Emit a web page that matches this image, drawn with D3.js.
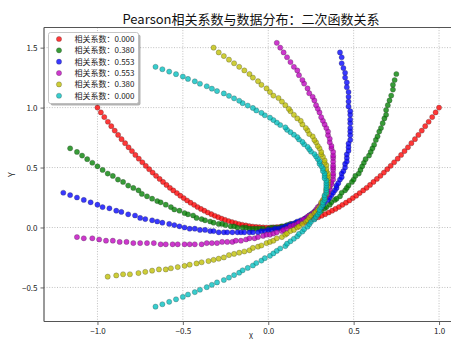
<!DOCTYPE html>
<html><head><meta charset="utf-8">
<script src="https://cdn.jsdelivr.net/npm/d3@7"></script>
<style>body{margin:0;background:#fff}svg{display:block;font-family:"Noto Sans CJK SC","DejaVu Sans",sans-serif}</style>
</head><body><svg id="c" width="451" height="339"></svg>
<script>
const titleText = "Pearson相关系数与数据分布：二次函数关系";
const xLabel = "X", yLabel = "Y";
const seriesLabels = ["相关系数：0.000","相关系数：0.380","相关系数：0.553","相关系数：0.553","相关系数：0.380","相关系数：0.000"];
const seriesColors = ["#ff0000","#008000","#0000ff","#bf00bf","#bfbf00","#00bfbf"];
const xTicks = [-1.0,-0.5,0.0,0.5,1.0];
const yTicks = [-0.5,0.0,0.5,1.0,1.5];

const redX = [-1.000,-0.980,-0.960,-0.939,-0.919,-0.899,-0.879,-0.859,-0.838,-0.818,-0.798,-0.778,-0.758,-0.737,-0.717,-0.697,-0.677,-0.657,-0.636,-0.616,-0.596,-0.576,-0.556,-0.535,-0.515,-0.495,-0.475,-0.455,-0.434,-0.414,-0.394,-0.374,-0.354,-0.333,-0.313,-0.293,-0.273,-0.253,-0.232,-0.212,-0.192,-0.172,-0.152,-0.131,-0.111,-0.091,-0.071,-0.051,-0.030,-0.010,
0.010,0.030,0.051,0.071,0.091,0.111,0.131,0.152,0.172,0.192,0.212,0.232,0.253,0.273,0.293,0.313,0.333,0.354,0.374,0.394,0.414,0.434,0.455,0.475,0.495,0.515,0.535,0.556,0.576,0.596,0.616,0.636,0.657,0.677,0.697,0.717,0.737,0.758,0.778,0.798,0.818,0.838,0.859,0.879,0.899,0.919,0.939,0.960,0.980,1.000];
const redY = [1.000,0.960,0.921,0.882,0.845,0.808,0.772,0.737,0.703,0.669,0.637,0.605,0.574,0.544,0.514,0.486,0.458,0.431,0.405,0.380,0.355,0.331,0.309,0.287,0.265,0.245,0.225,0.207,0.189,0.171,0.155,0.140,0.125,0.111,0.098,0.086,0.074,0.064,0.054,0.045,0.037,0.029,0.023,0.017,0.012,0.008,0.005,0.003,0.001,0.000,
0.000,0.001,0.003,0.005,0.008,0.012,0.017,0.023,0.029,0.037,0.045,0.054,0.064,0.074,0.086,0.098,0.111,0.125,0.140,0.155,0.171,0.189,0.207,0.225,0.245,0.265,0.287,0.309,0.331,0.355,0.380,0.405,0.431,0.458,0.486,0.514,0.544,0.574,0.605,0.637,0.669,0.703,0.737,0.772,0.808,0.845,0.882,0.921,0.960,1.000];

const greenX = [-1.16,-1.12,-1.09,-1.06,-1.03,-1.00,-0.97,-0.94,-0.91,-0.88,-0.85,-0.82,-0.79,-0.76,-0.74,-0.71,-0.68,-0.65,-0.63,-0.60,-0.57,-0.55,-0.52,-0.49,-0.47,-0.44,-0.42,-0.39,-0.37,-0.34,-0.32,-0.29,-0.27,-0.25,-0.22,-0.20,-0.18,-0.15,-0.13,-0.11,-0.09,-0.07,-0.05,-0.03,0.00,0.02,0.04,0.06,0.08,0.10,
0.11,0.13,0.15,0.17,0.19,0.21,0.22,0.24,0.26,0.28,0.29,0.31,0.33,0.34,0.36,0.37,0.39,0.40,0.42,0.43,0.45,0.46,0.47,0.49,0.50,0.51,0.53,0.54,0.55,0.56,0.57,0.59,0.60,0.61,0.62,0.63,0.64,0.65,0.66,0.67,0.68,0.69,0.69,0.70,0.71,0.72,0.73,0.73,0.74,0.75];
const greenY = [0.66,0.63,0.60,0.57,0.54,0.51,0.48,0.45,0.43,0.40,0.38,0.35,0.33,0.31,0.28,0.26,0.24,0.22,0.21,0.19,0.17,0.15,0.14,0.12,0.11,0.10,0.08,0.07,0.06,0.05,0.04,0.03,0.03,0.02,0.01,0.01,0.00,0.00,0.00,-0.01,-0.01,-0.01,-0.01,-0.01,-0.01,0.00,0.00,0.00,0.01,0.01,
0.02,0.03,0.03,0.04,0.05,0.06,0.07,0.09,0.10,0.11,0.12,0.14,0.16,0.17,0.19,0.21,0.23,0.24,0.26,0.29,0.31,0.33,0.35,0.38,0.40,0.43,0.45,0.48,0.51,0.54,0.57,0.60,0.63,0.66,0.69,0.73,0.76,0.80,0.83,0.87,0.91,0.94,0.98,1.02,1.06,1.10,1.15,1.19,1.23,1.28];

const blueX = [-1.20,-1.16,-1.12,-1.08,-1.04,-1.00,-0.97,-0.93,-0.89,-0.86,-0.82,-0.78,-0.75,-0.72,-0.68,-0.65,-0.62,-0.58,-0.55,-0.52,-0.49,-0.46,-0.43,-0.40,-0.37,-0.34,-0.32,-0.29,-0.26,-0.24,-0.21,-0.18,-0.16,-0.14,-0.11,-0.09,-0.06,-0.04,-0.02,0.00,0.02,0.04,0.06,0.08,0.10,0.12,0.14,0.16,0.17,0.19,
0.21,0.22,0.24,0.25,0.27,0.28,0.30,0.31,0.32,0.33,0.35,0.36,0.37,0.38,0.39,0.40,0.40,0.41,0.42,0.43,0.43,0.44,0.45,0.45,0.46,0.46,0.46,0.47,0.47,0.47,0.48,0.48,0.48,0.48,0.48,0.48,0.48,0.48,0.47,0.47,0.47,0.47,0.46,0.46,0.45,0.45,0.44,0.43,0.43,0.42];
const blueY = [0.29,0.27,0.25,0.23,0.21,0.19,0.17,0.16,0.14,0.13,0.11,0.10,0.08,0.07,0.06,0.05,0.04,0.03,0.02,0.01,0.00,-0.01,-0.01,-0.02,-0.02,-0.03,-0.03,-0.04,-0.04,-0.04,-0.04,-0.04,-0.04,-0.04,-0.04,-0.04,-0.04,-0.03,-0.03,-0.02,-0.02,-0.01,-0.01,0.00,0.01,0.02,0.03,0.04,0.05,0.06,
0.07,0.08,0.10,0.11,0.13,0.14,0.16,0.17,0.19,0.21,0.23,0.25,0.27,0.29,0.31,0.33,0.35,0.37,0.40,0.42,0.45,0.47,0.50,0.53,0.55,0.58,0.61,0.64,0.67,0.70,0.73,0.77,0.80,0.83,0.87,0.90,0.94,0.97,1.01,1.05,1.09,1.13,1.17,1.21,1.25,1.29,1.33,1.37,1.42,1.46];

const magentaX = [-1.12,-1.08,-1.03,-0.99,-0.95,-0.91,-0.87,-0.83,-0.79,-0.75,-0.71,-0.67,-0.63,-0.60,-0.56,-0.53,-0.49,-0.46,-0.43,-0.39,-0.36,-0.33,-0.30,-0.27,-0.24,-0.21,-0.19,-0.16,-0.13,-0.11,-0.08,-0.06,-0.03,-0.01,0.01,0.03,0.05,0.08,0.09,0.11,0.13,0.15,0.17,0.18,0.20,0.21,0.23,0.24,0.26,0.27,
0.28,0.29,0.30,0.31,0.32,0.33,0.34,0.35,0.35,0.36,0.36,0.37,0.37,0.38,0.38,0.38,0.38,0.38,0.38,0.38,0.38,0.38,0.38,0.37,0.37,0.36,0.36,0.35,0.35,0.34,0.33,0.32,0.31,0.30,0.29,0.28,0.27,0.26,0.24,0.23,0.21,0.20,0.18,0.17,0.15,0.13,0.11,0.09,0.07,0.05];
const magentaY = [-0.08,-0.09,-0.09,-0.10,-0.11,-0.11,-0.12,-0.12,-0.13,-0.13,-0.13,-0.13,-0.14,-0.14,-0.14,-0.14,-0.14,-0.14,-0.14,-0.14,-0.13,-0.13,-0.13,-0.12,-0.12,-0.12,-0.11,-0.11,-0.10,-0.09,-0.09,-0.08,-0.07,-0.06,-0.06,-0.05,-0.04,-0.03,-0.02,-0.01,0.01,0.02,0.03,0.04,0.06,0.07,0.09,0.10,0.12,0.13,
0.15,0.17,0.18,0.20,0.22,0.24,0.26,0.28,0.30,0.32,0.34,0.36,0.38,0.40,0.43,0.45,0.48,0.50,0.52,0.55,0.58,0.60,0.63,0.66,0.68,0.71,0.74,0.77,0.80,0.83,0.86,0.89,0.92,0.96,0.99,1.02,1.06,1.09,1.12,1.16,1.20,1.23,1.27,1.31,1.34,1.38,1.42,1.46,1.50,1.54];

const yellowX = [-0.94,-0.89,-0.85,-0.81,-0.76,-0.72,-0.68,-0.64,-0.60,-0.57,-0.53,-0.49,-0.46,-0.42,-0.39,-0.35,-0.32,-0.29,-0.26,-0.23,-0.20,-0.17,-0.14,-0.11,-0.09,-0.06,-0.04,-0.01,0.01,0.03,0.05,0.08,0.10,0.11,0.13,0.15,0.17,0.18,0.20,0.22,0.23,0.24,0.25,0.27,0.28,0.29,0.30,0.31,0.31,0.32,
0.33,0.33,0.34,0.34,0.34,0.35,0.35,0.35,0.35,0.35,0.35,0.34,0.34,0.34,0.33,0.33,0.32,0.31,0.31,0.30,0.29,0.28,0.27,0.26,0.24,0.23,0.22,0.20,0.19,0.17,0.15,0.13,0.12,0.10,0.08,0.06,0.03,0.01,-0.01,-0.04,-0.06,-0.09,-0.11,-0.14,-0.17,-0.20,-0.23,-0.26,-0.29,-0.32];
const yellowY = [-0.41,-0.40,-0.39,-0.39,-0.38,-0.37,-0.36,-0.35,-0.35,-0.34,-0.33,-0.32,-0.31,-0.30,-0.29,-0.28,-0.27,-0.26,-0.25,-0.23,-0.22,-0.21,-0.20,-0.19,-0.17,-0.16,-0.15,-0.13,-0.12,-0.11,-0.09,-0.08,-0.06,-0.05,-0.03,-0.02,0.00,0.01,0.03,0.05,0.06,0.08,0.10,0.12,0.13,0.15,0.17,0.19,0.21,0.23,
0.24,0.26,0.28,0.30,0.32,0.34,0.37,0.39,0.41,0.43,0.45,0.47,0.49,0.52,0.54,0.56,0.59,0.61,0.63,0.66,0.68,0.71,0.73,0.76,0.78,0.81,0.83,0.86,0.89,0.91,0.94,0.97,0.99,1.02,1.05,1.08,1.10,1.13,1.16,1.19,1.22,1.25,1.28,1.31,1.34,1.37,1.40,1.43,1.46,1.50];

const cyanX = [-0.66,-0.62,-0.58,-0.54,-0.50,-0.47,-0.43,-0.40,-0.36,-0.33,-0.30,-0.26,-0.23,-0.20,-0.17,-0.15,-0.12,-0.09,-0.07,-0.04,-0.02,0.01,0.03,0.05,0.07,0.10,0.11,0.13,0.15,0.17,0.18,0.20,0.21,0.23,0.24,0.25,0.27,0.28,0.29,0.30,0.30,0.31,0.32,0.32,0.33,0.33,0.33,0.34,0.34,0.34,
0.34,0.34,0.34,0.33,0.33,0.33,0.32,0.32,0.31,0.30,0.30,0.29,0.28,0.27,0.25,0.24,0.23,0.21,0.20,0.18,0.17,0.15,0.13,0.11,0.10,0.07,0.05,0.03,0.01,-0.02,-0.04,-0.07,-0.09,-0.12,-0.15,-0.17,-0.20,-0.23,-0.26,-0.30,-0.33,-0.36,-0.40,-0.43,-0.47,-0.50,-0.54,-0.58,-0.62,-0.66];
const cyanY = [-0.660,-0.640,-0.620,-0.599,-0.579,-0.559,-0.539,-0.519,-0.498,-0.478,-0.458,-0.438,-0.418,-0.397,-0.377,-0.357,-0.337,-0.317,-0.296,-0.276,-0.256,-0.236,-0.216,-0.195,-0.175,-0.155,-0.135,-0.115,-0.094,-0.074,-0.054,-0.034,-0.014,0.007,0.027,0.047,0.067,0.088,0.108,0.128,0.148,0.168,0.189,0.209,0.229,0.249,0.269,0.290,0.310,0.330,
0.350,0.370,0.391,0.411,0.431,0.451,0.471,0.492,0.512,0.532,0.552,0.572,0.593,0.613,0.633,0.653,0.673,0.694,0.714,0.734,0.754,0.774,0.795,0.815,0.835,0.855,0.875,0.896,0.916,0.936,0.956,0.976,0.997,1.017,1.037,1.057,1.077,1.098,1.118,1.138,1.158,1.178,1.199,1.219,1.239,1.259,1.279,1.300,1.320,1.340];

const seriesXs = [redX, greenX, blueX, magentaX, yellowX, cyanX];
const seriesYs = [redY, greenY, blueY, magentaY, yellowY, cyanY];

// ---------- layout ----------
const svg = d3.select("#c");
const plotL = 44, plotR = 458, plotT = 27.5, plotB = 321.5;
const x = d3.scaleLinear().domain([-1.313, 1.111]).range([plotL, plotR]);
const y = d3.scaleLinear().domain([-0.784, 1.668]).range([plotB, plotT]);

svg.append("rect").attr("width",451).attr("height",339).attr("fill","#fff");

svg.append("defs").append("clipPath").attr("id","clip")
  .append("rect").attr("x",plotL).attr("y",plotT).attr("width",plotR-plotL).attr("height",plotB-plotT);

// grid
const grid = svg.append("g").attr("stroke","#b0b0b0").attr("stroke-width",0.8).attr("stroke-dasharray","1,1.6");
xTicks.forEach(t => grid.append("line").attr("x1",x(t)).attr("x2",x(t)).attr("y1",plotT).attr("y2",plotB));
yTicks.forEach(t => grid.append("line").attr("x1",plotL).attr("x2",plotR).attr("y1",y(t)).attr("y2",y(t)));

// points
const pts = svg.append("g").attr("clip-path","url(#clip)");
seriesXs.forEach((xs, si) => {
  const data = xs.map((v,i) => [v, seriesYs[si][i]]);
  pts.append("g").selectAll("circle").data(data).join("circle")
    .attr("cx", d => x(d[0])).attr("cy", d => y(d[1])).attr("r", 2.6)
    .attr("fill", seriesColors[si]).attr("fill-opacity", 0.78)
    .attr("stroke", "#333").attr("stroke-opacity", 0.55).attr("stroke-width", 0.5);
});

// axes
const fmt = d3.format(".1f");
const xAxis = svg.append("g").attr("transform",`translate(0,${plotB})`)
  .call(d3.axisBottom(x).tickValues(xTicks).tickFormat(fmt).tickSize(3.5).tickPadding(3));
const yAxis = svg.append("g").attr("transform",`translate(${plotL},0)`)
  .call(d3.axisLeft(y).tickValues(yTicks).tickFormat(fmt).tickSize(3.5).tickPadding(3));
[xAxis, yAxis].forEach(a => {
  a.select(".domain").remove();
  a.selectAll(".tick line").attr("stroke","#444").attr("stroke-width",0.8);
  a.selectAll(".tick text").attr("fill","#222").style("font-size","8px").style("font-family","'Noto Sans CJK SC','DejaVu Sans',sans-serif");
});

// frame
const frame = svg.append("g").attr("stroke","#555").attr("stroke-width",1.2).attr("fill","none");
frame.append("line").attr("x1",plotL).attr("x2",plotL).attr("y1",plotT).attr("y2",plotB);
frame.append("line").attr("x1",plotL).attr("x2",plotR).attr("y1",plotB).attr("y2",plotB);
frame.append("line").attr("x1",plotL).attr("x2",plotR).attr("y1",plotT).attr("y2",plotT);
frame.append("line").attr("x1",plotR).attr("x2",plotR).attr("y1",plotT).attr("y2",plotB);

// title and labels
svg.append("text").attr("x",(plotL+plotR)/2).attr("y",23.5).attr("text-anchor","middle")
  .style("font-size","13px").attr("fill","#111").text(titleText);
svg.append("text").attr("x",(plotL+plotR)/2).attr("y",338.5).attr("text-anchor","middle")
  .style("font-size","7px").attr("fill","#222").text(xLabel);
svg.append("text").attr("transform",`translate(15,${(plotT+plotB)/2}) rotate(-90)`).attr("text-anchor","middle")
  .style("font-size","9px").attr("fill","#222").text(yLabel);

// legend
const lg = svg.append("g");
const lgX = 48.5, lgY = 32.5, lgW = 90, lgH = 71;
lg.append("rect").attr("x",lgX+2).attr("y",lgY+2).attr("width",lgW).attr("height",lgH).attr("rx",2)
  .attr("fill","#000").attr("fill-opacity",0.3);
lg.append("rect").attr("x",lgX).attr("y",lgY).attr("width",lgW).attr("height",lgH).attr("rx",2)
  .attr("fill","#fff").attr("stroke","#b8b8b8").attr("stroke-width",0.8);
seriesLabels.forEach((lab, i) => {
  const yy = 39 + i*11.35;
  lg.append("circle").attr("cx",59).attr("cy",yy).attr("r",2.6)
    .attr("fill",seriesColors[i]).attr("fill-opacity",0.78)
    .attr("stroke","#333").attr("stroke-opacity",0.55).attr("stroke-width",0.5);
  lg.append("text").attr("x",74.5).attr("y",yy+2.9).style("font-size","8px").attr("fill","#222").text(lab);
});
</script></body></html>
